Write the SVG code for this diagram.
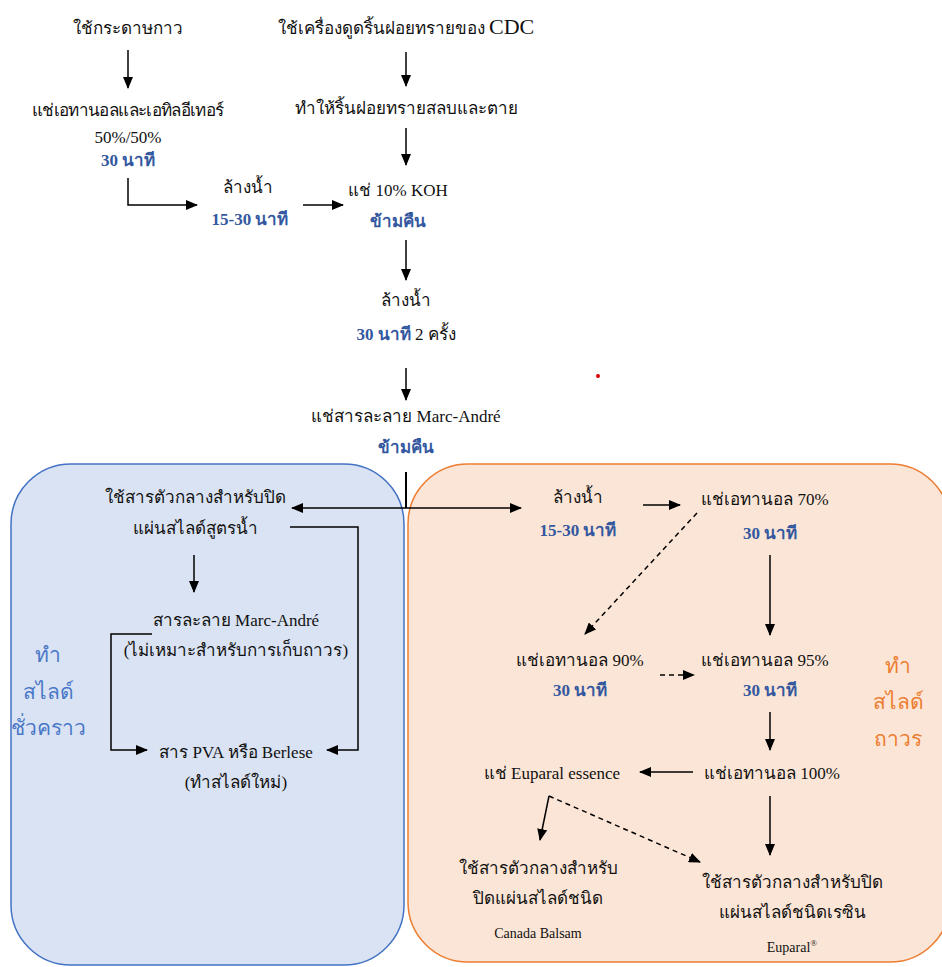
<svg xmlns="http://www.w3.org/2000/svg" width="942" height="967" viewBox="0 0 942 967">
<defs>
<marker id="ah" markerWidth="12" markerHeight="10" refX="11" refY="5" orient="auto" markerUnits="userSpaceOnUse"><path d="M0,0 L12,5 L0,10 Z" fill="#000"/></marker>
<marker id="ahs" markerWidth="12" markerHeight="10" refX="1" refY="5" orient="auto" markerUnits="userSpaceOnUse"><path d="M12,0 L0,5 L12,10 Z" fill="#000"/></marker>
</defs>
<style>
text{font-family:"Liberation Serif","Noto Sans",serif;font-size:17px;fill:#111;text-anchor:middle}
.b{fill:#34589f;font-weight:bold}
.lb{fill:#4a78c8;font-size:21px}
.lo{fill:#ed7d31;font-size:21px}
.s{font-size:14px}
.c{stroke:#000;stroke-width:1.5;fill:none}
.d{stroke-dasharray:5,4}
</style>
<rect x="0" y="0" width="942" height="967" fill="#fff"/>
<g id="panel-temp"><rect x="11" y="464" width="393" height="501" rx="60" fill="#dae3f3" stroke="#4472c4" stroke-width="1.5"/></g>
<g id="panel-perm"><rect x="408" y="464" width="542" height="498" rx="60" fill="#fbe5d6" stroke="#ed7d31" stroke-width="1.5"/></g>
<circle cx="598" cy="376" r="2" fill="#e00000"/>

<g id="connectors">
<path class="c" d="M128,50 V88" marker-end="url(#ah)"/>
<path class="c" d="M406,52 V86" marker-end="url(#ah)"/>
<path class="c" d="M406,128 V165" marker-end="url(#ah)"/>
<path class="c" d="M128,178 V205 H197" marker-end="url(#ah)"/>
<path class="c" d="M303,205 H343" marker-end="url(#ah)"/>
<path class="c" d="M406,240 V280" marker-end="url(#ah)"/>
<path class="c" d="M406,368 V400" marker-end="url(#ah)"/>
<path d="M406,472 V508" stroke="#000" stroke-width="2"/>
<path class="c" d="M292,508 H521" marker-start="url(#ahs)" marker-end="url(#ah)"/>
<path class="c" d="M290,527 H358 V750 H327" marker-end="url(#ah)"/>
<path class="c" d="M194,555 V592" marker-end="url(#ah)"/>
<path class="c" d="M152,634 H111 V750 H147" marker-end="url(#ah)"/>
<path class="c" d="M643,505 H680" marker-end="url(#ah)"/>
<path class="c d" d="M697,513 L585,634" marker-end="url(#ah)"/>
<path class="c" d="M770,555 V635" marker-end="url(#ah)"/>
<path class="c d" d="M660,675 H694" marker-end="url(#ah)"/>
<path class="c" d="M770,712 V750" marker-end="url(#ah)"/>
<path class="c" d="M693,772 H640" marker-end="url(#ah)"/>
<path class="c" d="M549,796 L540,840" marker-end="url(#ah)"/>
<path class="c d" d="M549,796 L700,862" marker-end="url(#ah)"/>
<path class="c" d="M770,796 V855" marker-end="url(#ah)"/>
</g>

<g id="n-tape"><text x="128" y="34">ใช้กระดาษกาว</text></g>
<g id="n-cdc"><text x="406" y="34">ใช้เครื่องดูดริ้นฝอยทรายของ <tspan font-size="22">CDC</tspan></text></g>
<g id="n-ether"><text x="128" y="116" textLength="192">แช่เอทานอลและเอทิลอีเทอร์</text><text x="128" y="143">50%/50%</text><text class="b" x="128" y="166">30 นาที</text></g>
<g id="n-kill"><text x="406" y="114">ทำให้ริ้นฝอยทรายสลบและตาย</text></g>
<g id="n-wash1"><text x="248" y="193">ล้างน้ำ</text><text class="b" x="250" y="225">15-30 นาที</text></g>
<g id="n-koh"><text x="398" y="196">แช่ 10% KOH</text><text class="b" x="398" y="227">ข้ามคืน</text></g>
<g id="n-wash2"><text x="406" y="306">ล้างน้ำ</text><text x="406" y="340"><tspan class="b">30 นาที</tspan> 2 ครั้ง</text></g>
<g id="n-marc"><text x="406" y="422">แช่สารละลาย Marc-André</text><text class="b" x="406" y="453">ข้ามคืน</text></g>

<g id="n-water"><text x="195" y="503">ใช้สารตัวกลางสำหรับปิด</text><text x="195" y="534">แผ่นสไลด์สูตรน้ำ</text></g>
<g id="n-marc2"><text x="236" y="626">สารละลาย Marc-André</text><text x="236" y="656">(ไม่เหมาะสำหรับการเก็บถาวร)</text></g>
<g id="n-pva"><text x="236" y="758">สาร PVA หรือ Berlese</text><text x="236" y="788">(ทำสไลด์ใหม่)</text></g>
<g id="l-temp"><text class="lb" x="48" y="662">ทำ</text><text class="lb" x="48" y="699">สไลด์</text><text class="lb" x="48" y="735">ชั่วคราว</text></g>

<g id="n-wash3"><text x="578" y="503">ล้างน้ำ</text><text class="b" x="578" y="536">15-30 นาที</text></g>
<g id="n-e70"><text x="765" y="505">แช่เอทานอล 70%</text><text class="b" x="770" y="539">30 นาที</text></g>
<g id="n-e90"><text x="580" y="666">แช่เอทานอล 90%</text><text class="b" x="580" y="696">30 นาที</text></g>
<g id="n-e95"><text x="765" y="666">แช่เอทานอล 95%</text><text class="b" x="770" y="696">30 นาที</text></g>
<g id="n-e100"><text x="772" y="779">แช่เอทานอล 100%</text></g>
<g id="n-essence"><text x="552" y="779">แช่ Euparal essence</text></g>
<g id="n-balsam"><text x="538" y="874">ใช้สารตัวกลางสำหรับ</text><text x="538" y="904">ปิดแผ่นสไลด์ชนิด</text><text class="s" x="538" y="938">Canada Balsam</text></g>
<g id="n-euparal"><text x="792" y="888">ใช้สารตัวกลางสำหรับปิด</text><text x="792" y="918">แผ่นสไลด์ชนิดเรซิน</text><text class="s" x="792" y="952">Euparal<tspan font-size="9" dy="-6">®</tspan></text></g>
<g id="l-perm"><text class="lo" x="898" y="673">ทำ</text><text class="lo" x="898" y="709">สไลด์</text><text class="lo" x="898" y="746">ถาวร</text></g>
</svg>
